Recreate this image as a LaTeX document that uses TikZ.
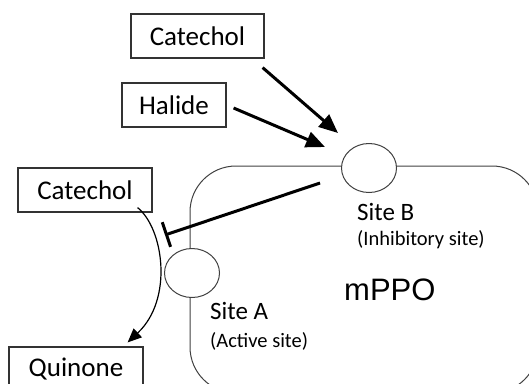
\documentclass[tikz,border=0pt]{standalone}
\usepackage{fontspec}
\setmainfont{Carlito}
\newfontfamily\arialfont{Liberation Sans}
\usetikzlibrary{arrows.meta,shapes.geometric}

\begin{document}
\begin{tikzpicture}[x=1pt,y=-1pt,
  box/.style={draw=black!80,line width=1.2pt,inner sep=0pt,minimum height=44pt,font=\fontsize{27}{30}\selectfont},
  site/.style={draw=black!75,line width=1pt,fill=white,ellipse,inner sep=0pt,minimum width=55pt,minimum height=49pt},
  lbl/.style={anchor=base west,inner sep=0pt,font=\fontsize{25}{28}\selectfont},
  sub/.style={anchor=base west,inner sep=0pt,font=\fontsize{20.5}{24}\selectfont},
  push/.style={line width=3pt,-{Triangle[length=19pt,width=16pt]}},
  block/.style={line width=3pt,-{Bar[width=26pt,line width=3pt]}}]
  \useasboundingbox (0,0) rectangle (529,383);
  \clip (0,0) rectangle (529,383);
  \draw[black!75,line width=1pt,rounded corners=46pt] (190,166) rectangle (538,393);
  \node[site] (siteB) at (369,168) {};
  \node[site] (siteA) at (192,273) {};
  \node[lbl] (labB) at (357,220) {Site B};
  \node[sub] (subB) at (357,245) {(Inhibitory site)};
  \node[lbl] (labA) at (210,319) {Site A};
  \node[sub] (subA) at (210,347) {(Active site)};
  \node[anchor=base west,inner sep=0pt,font=\arialfont\fontsize{31}{34}\selectfont] (mppo) at (344,300) {mPPO};
  \node[box,minimum width=133pt] (cat1) at (197.5,36) {Catechol};
  \node[box,minimum width=104pt] (hal) at (174,105) {Halide};
  \node[box,minimum width=134pt] (cat2) at (85,190) {Catechol};
  \node[box,minimum width=134pt] (qui) at (76,369) {Quinone};
  \draw[push] ([shift={(-2,9)}]cat1.south east) -- ([shift={(-31,-35)}]siteB.center);
  \draw[push] ([shift={(7,3)}]hal.east) -- ([shift={(-44,-21)}]siteB.center);
  \draw[block] ([shift={(-49,15)}]siteB.center) -- ([shift={(-27,-38)}]siteA.center);
  \draw[line width=1.2pt,-{Triangle[length=14pt,width=12pt]}] ([shift={(-15,-5)}]cat2.south east)
    .. controls +(26,21) and +(46,-43) .. ([shift={(-16,-4)}]qui.north east);
\end{tikzpicture}
\end{document}
